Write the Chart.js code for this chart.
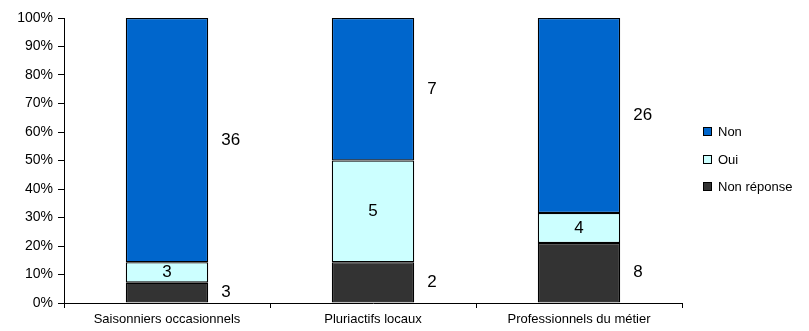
<!DOCTYPE html>
<html>
<head>
<meta charset="utf-8">
<script src="https://cdn.jsdelivr.net/npm/chart.js@4"></script>
<style>
  html, body { margin: 0; padding: 0; background: #fff; }
  #wrap { width: 809px; height: 331px; }
</style>
</head>
<body>
<div id="wrap"><canvas id="chart" width="809" height="331"></canvas></div>
<script>
// ── Data (counts) ───────────────────────────────────────────────────────────
const categories  = ["Saisonniers occasionnels", "Pluriactifs locaux", "Professionnels du métier"];
const nonReponse  = [3, 2, 8];
const oui         = [3, 5, 4];
const non         = [36, 7, 26];
const yTicks      = [0, 10, 20, 30, 40, 50, 60, 70, 80, 90, 100];

// turn counts into % of each category's total
const totals = categories.map((_, i) => nonReponse[i] + oui[i] + non[i]);
const pct = arr => arr.map((v, i) => v / totals[i] * 100);

const FONT = "'Liberation Sans', Arial, sans-serif";

// ── Plugin: count labels (Oui inside the bar, the others to its right) ──────
const countLabels = {
  id: "countLabels",
  afterDatasetsDraw(chart) {
    const ctx = chart.ctx;
    ctx.save();
    ctx.font = "17px " + FONT;
    ctx.fillStyle = "#000";
    ctx.textBaseline = "middle";
    chart.data.datasets.forEach((ds, di) => {
      chart.getDatasetMeta(di).data.forEach((bar, j) => {
        const cy = (bar.y + bar.base) / 2;
        if (ds.label === "Oui") {
          ctx.textAlign = "center";
          ctx.fillText(ds.counts[j], bar.x, cy);
        } else {
          ctx.textAlign = "left";
          ctx.fillText(ds.counts[j], bar.x + bar.width / 2 + 13, cy);
        }
      });
    });
    ctx.restore();
  }
};

// ── Plugin: legend on the right (Non, Oui, Non réponse) ─────────────────────
const sideLegend = {
  id: "sideLegend",
  afterDraw(chart) {
    const ctx = chart.ctx;
    const rows = [132, 160, 187];
    const items = chart.data.datasets.slice().reverse();
    ctx.save();
    ctx.font = "13px " + FONT;
    ctx.textBaseline = "middle";
    ctx.textAlign = "left";
    items.forEach((ds, i) => {
      const y = rows[i];
      ctx.fillStyle = ds.backgroundColor;
      ctx.fillRect(703.5, y - 4.5, 8, 8);
      ctx.strokeStyle = "#000";
      ctx.lineWidth = 1;
      ctx.strokeRect(703.5, y - 4.5, 8, 8);
      ctx.fillStyle = "#000";
      ctx.fillText(ds.label, 718, y);
    });
    ctx.restore();
  }
};

function makeSet(label, counts, color) {
  return {
    label,
    counts,
    data: pct(counts),
    backgroundColor: color,
    borderColor: "#000",
    borderWidth: 1.3,
    borderSkipped: false,
    categoryPercentage: 1,
    barPercentage: 0.4,
  };
}

new Chart(document.getElementById("chart"), {
  type: "bar",
  data: {
    labels: categories,
    datasets: [
      makeSet("Non réponse", nonReponse, "#333333"),
      makeSet("Oui",         oui,        "#CCFFFF"),
      makeSet("Non",         non,        "#0066CC"),
    ],
  },
  options: {
    responsive: false,
    animation: false,
    layout: { padding: { top: 18, right: 127, left: 0, bottom: 0 } },
    plugins: { legend: { display: false }, tooltip: { enabled: false } },
    scales: {
      x: {
        stacked: true,
        grid: { drawOnChartArea: false, drawTicks: true, tickLength: 5, color: "#000", offset: true },
        border: { color: "#000" },
        ticks: { color: "#000", font: { family: FONT, size: 13 }, padding: 4, maxRotation: 0 },
        afterFit: s => { s.height = 28; },
      },
      y: {
        stacked: true,
        min: 0,
        max: 100,
        afterBuildTicks: s => { s.ticks = yTicks.map(v => ({ value: v })); },
        grid: { drawOnChartArea: false, drawTicks: true, tickLength: 6, color: "#000" },
        border: { color: "#000" },
        ticks: { color: "#000", font: { family: FONT, size: 14 }, padding: 5, callback: v => v + "%" },
        afterFit: s => { s.width = 64; },
      },
    },
  },
  plugins: [countLabels, sideLegend],
});
</script>
</body>
</html>
